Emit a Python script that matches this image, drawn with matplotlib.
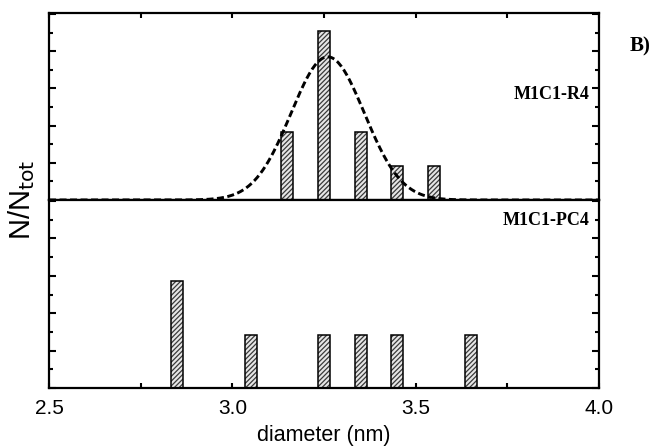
import numpy as np
import matplotlib
matplotlib.use('Agg')
import matplotlib.pyplot as plt
from matplotlib.ticker import MultipleLocator, NullFormatter

# size distributions (bin centres in nm, counts per bin)
r4_diam = [3.15, 3.25, 3.35, 3.45, 3.55]
r4_counts = [2, 5, 2, 1, 1]
pc4_diam = [2.85, 3.05, 3.25, 3.35, 3.45, 3.65]
pc4_counts = [2, 1, 1, 1, 1, 1]

# gaussian fit drawn over M1C1-R4
fit_amp = 0.385
fit_center = 3.26
fit_sigma = 0.1

r4_frac = np.array(r4_counts) / sum(r4_counts)
pc4_frac = np.array(pc4_counts) / sum(pc4_counts)

plt.rcParams['font.family'] = ['Liberation Sans', 'DejaVu Sans']
plt.rcParams['hatch.linewidth'] = 0.9

fig = plt.figure(figsize=(6.54, 4.46), dpi=100)
ax_top = fig.add_axes([0.075, 0.5516, 0.841, 0.4193])
ax_bot = fig.add_axes([0.075, 0.130, 0.841, 0.4216], sharex=ax_top)

barw = 0.033
hatchcol = '#3a3a3a'


def hatched_bars(ax, x, h):
    # hatch in grey, outline in black
    ax.bar(x, h, width=barw, color='#e6e6e6', edgecolor=hatchcol, hatch='///////',
           linewidth=0, zorder=2)
    ax.bar(x, h, width=barw, fill=False, edgecolor='black', linewidth=1.1, zorder=3)


hatched_bars(ax_top, r4_diam, r4_frac)
hatched_bars(ax_bot, pc4_diam, pc4_frac)

xfit = np.linspace(2.5, 4.0, 400)
yfit = fit_amp * np.exp(-0.5 * ((xfit - fit_center) / fit_sigma) ** 2)
ax_top.plot(xfit, yfit, color='black', lw=2.1, dashes=[2.4, 1.2], zorder=4, clip_on=False)

for ax in (ax_top, ax_bot):
    ax.set_xlim(2.5, 4.0)
    ax.set_ylim(0, 0.503)
    for s in ax.spines.values():
        s.set_linewidth(1.6)
    ax.xaxis.set_major_locator(MultipleLocator(0.5))
    ax.xaxis.set_minor_locator(MultipleLocator(0.25))
    ax.yaxis.set_major_locator(MultipleLocator(0.1))
    ax.yaxis.set_minor_locator(MultipleLocator(0.05))
    ax.yaxis.set_major_formatter(NullFormatter())
    ax.tick_params(axis='y', which='major', direction='in', length=5, width=1.5,
                   left=True, right=True)
    ax.tick_params(axis='y', which='minor', direction='in', length=3, width=1.5,
                   left=True, right=True)
    ax.tick_params(axis='x', which='both', direction='in', length=3.5, width=1.5)

ax_top.tick_params(axis='x', which='both', top=True, bottom=False,
                   labelbottom=False, labeltop=False)
ax_bot.tick_params(axis='x', which='both', top=False, bottom=True,
                   labelsize=15, pad=8)
ax_bot.set_xticks([2.5, 3.0, 3.5, 4.0])
ax_bot.set_xticklabels(['2.5', '3.0', '3.5', '4.0'])
ax_bot.set_xlabel('diameter (nm)', fontsize=15.5, labelpad=5)

fig.text(0.033, 0.551, r'N/N$_{\rm tot}$', rotation=90, fontsize=21,
         ha='center', va='center')

ax_top.text(3.973, 0.283, 'M1C1-R4', ha='right', va='center', fontsize=13,
            family='Liberation Serif', fontweight='bold')
ax_bot.text(3.973, 0.449, 'M1C1-PC4', ha='right', va='center', fontsize=13,
            family='Liberation Serif', fontweight='bold')
fig.text(0.962, 0.895, 'B)', ha='left', va='center', fontsize=15,
         family='Liberation Serif', fontweight='bold')

fig.savefig('out.png', dpi=100)
